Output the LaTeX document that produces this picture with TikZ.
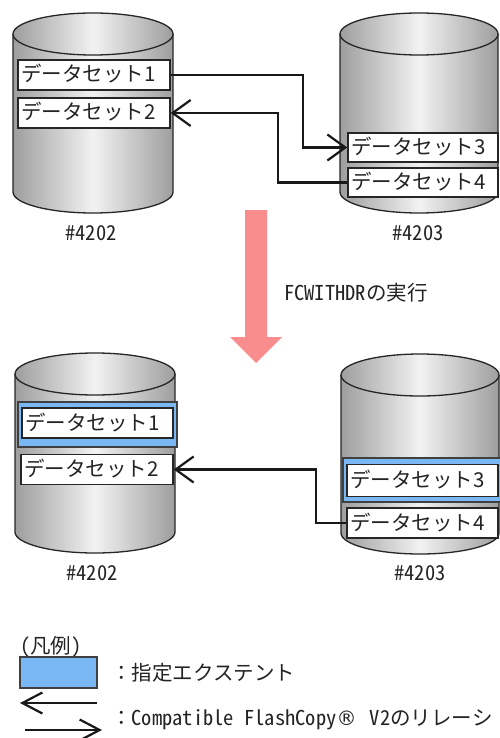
\documentclass[tikz,border=0pt]{standalone}
\usepackage{fontspec}
\setmainfont{Noto Sans CJK JP}
\newfontfamily\hw{Noto Sans CJK JP}[CharacterWidth=Half]
\newfontfamily\dv{DejaVu Sans}
\usetikzlibrary{arrows.meta}
\definecolor{cedge}{RGB}{158,158,158}
\definecolor{clight}{RGB}{242,242,242}
\definecolor{cblue}{RGB}{122,184,245}
\definecolor{cpink}{RGB}{249,140,140}
\definecolor{ctext}{RGB}{35,35,35}
\newcommand\dbcyl[5]{%
  \shade[left color=cedge,right color=cedge,middle color=clight]
    (#1-#4,#2) -- (#1-#4,#3) arc[start angle=180,end angle=360,x radius=#4pt,y radius=#5pt] -- (#1+#4,#2) -- cycle;
  \draw[cylline] (#1-#4,#2) -- (#1-#4,#3) arc[start angle=180,end angle=360,x radius=#4pt,y radius=#5pt] -- (#1+#4,#2);
  \shade[left color=cedge,right color=cedge,middle color=clight] (#1,#2) ellipse[x radius=#4pt,y radius=#5pt];
  \draw[cylline] (#1,#2) ellipse[x radius=#4pt,y radius=#5pt];
}
\begin{document}
\begin{tikzpicture}[x=1pt,y=-1pt,
  every node/.style={text=ctext},
  txt/.style={font=\fontsize{20.5}{22}\selectfont, inner sep=0pt},
  cylline/.style={draw=black!85, line width=1.3pt},
  ds/.style={txt, draw=black!85, line width=1.5pt, fill=white, minimum height=30pt,
    text width=146pt, inner xsep=3pt, inner ysep=0pt, align=left, text height=16pt, text depth=2pt},
  extent/.style={draw=black!75, line width=1.2pt, fill=cblue, inner sep=0pt},
  link/.style={draw=black!90, line width=2.2pt, -{Straight Barb[length=18pt,width=26pt]}},
  leglink/.style={draw=black!90, line width=2.2pt, -{Straight Barb[length=20pt,width=21pt]}}
]
\useasboundingbox (0,0) rectangle (500,738);
\clip (0,0) rectangle (500,738);
\fill[white] (0,0) rectangle (500,738);

% ---------- top cylinders ----------
\dbcyl{93}{34}{192}{80}{21}
\dbcyl{419}{34}{192}{79}{21}

\node[ds] (t1) at (94,75) {データセット1};
\node[ds] (t2) at (94,113) {データセット2};
\node[ds, text width=144pt, minimum height=29pt] (t3) at (423,147.5) {データセット3};
\node[ds, text width=144pt, minimum height=29pt] (t4) at (423,182.5) {データセット4};

\draw[link] (t1.east) -- ++(132,0) |- (t3.west);
\draw[link] (t4.west) -- ++(-69,0) |- (t2.east);

\node[txt, anchor=base] (l1) at (91,240) {\hw \#4202};
\node[txt, anchor=base] (l2) at (418,240) {\hw \#4203};

% ---------- pink arrow ----------
\fill[cpink] (245,210) -- (267,210) -- (267,337) -- (282,337) -- (256,363) -- (230,337) -- (245,337) -- cycle;
\node[txt, anchor=base west] (op) at (284,300) {{\hw FCWITHDR}の実行};

% ---------- bottom cylinders ----------
\dbcyl{95}{374}{532}{80}{21}
\dbcyl{420}{375}{533}{79}{21}

\node[extent, minimum width=159pt, minimum height=45pt] (e1) at (97.5,424.5) {};
\node[extent, minimum width=162pt, minimum height=44pt] (e3) at (424,480) {};

\node[ds, text width=145pt] (b1) at (97.5,423) {データセット1};
\node[ds] (b2) at (97,469.5) {データセット2};
\node[ds, text width=145pt, minimum height=32pt] (b3) at (422.5,480.5) {データセット3};
\node[ds, text width=145pt] (b4) at (422.5,523) {データセット4};

\draw[link] (b4.west) -- ++(-30,0) |- (b2.east);

\node[txt, anchor=base] (l3) at (92,580) {\hw \#4202};
\node[txt, anchor=base] (l4) at (420,580) {\hw \#4203};

% ---------- legend ----------
\node[txt, anchor=base west] (lgh) at (20,653) {{\hw (}凡例{\hw )}};
\node[extent, minimum width=77pt, minimum height=31pt] (lgbox) at (58.5,672.5) {};
\node[txt, anchor=base west] (lgt1) at (111,680) {：指定エクステント};
\coordinate (la1) at (97,703);
\coordinate (la2) at (20,703);
\draw[leglink] (la1) -- (la2);
\coordinate (lb1) at (25,730);
\coordinate (lb2) at (102,730);
\draw[leglink] (lb1) -- (lb2);
\node[txt, anchor=base west] (lgt2) at (111,725) {：{\hw Compatible FlashCopy}{\dv\fontsize{20}{22}\selectfont ®}{\hw\ }\hspace{3pt}{\hw V2}のリレーシ};
\end{tikzpicture}
\end{document}
